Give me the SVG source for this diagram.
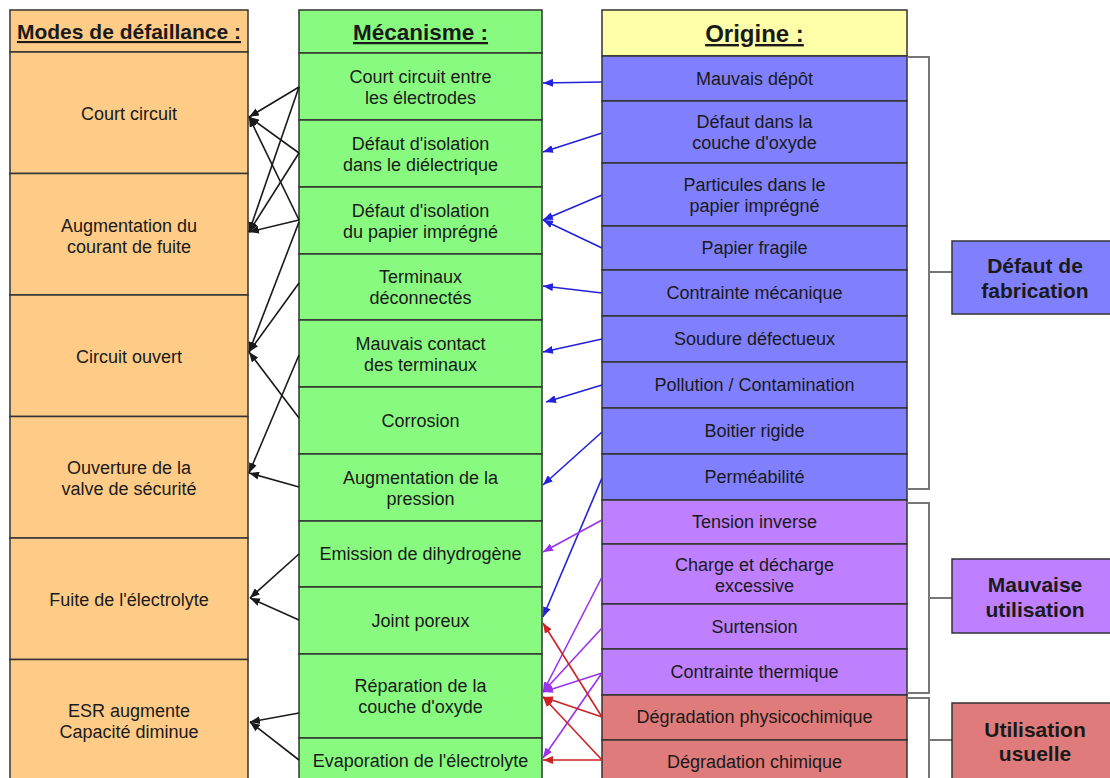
<svg xmlns="http://www.w3.org/2000/svg" width="1110" height="778" viewBox="0 0 1110 778">
<style>
  text{font-family:"Liberation Sans",Arial,sans-serif;fill:#1a1a1a;text-anchor:middle}
  .t{font-size:18px}
  .h{font-weight:bold;text-decoration:underline}
  .lb{font-size:21px;font-weight:bold}
  .cell{stroke:#333;stroke-width:1.5}
  .or{fill:#FFCC88}
  .gr{fill:#88FA80}
  .ye{fill:#FFFFAA}
  .bl{fill:#8080FF}
  .pu{fill:#BF80FF}
  .re{fill:#E07B7B}
  .k{stroke:#1a1a1a;stroke-width:1.6;fill:none}
  .b{stroke:#2222DD;stroke-width:1.6;fill:none}
  .p{stroke:#9933EE;stroke-width:1.6;fill:none}
  .r{stroke:#CC2222;stroke-width:1.6;fill:none}
  .br{stroke:#777;stroke-width:2;fill:none}
</style>
<defs>
  <marker id="ak" markerUnits="userSpaceOnUse" markerWidth="10" markerHeight="8" refX="10" refY="4" orient="auto"><path d="M0,0 L10,4 L0,8 z" fill="#1a1a1a"/></marker>
  <marker id="ab" markerUnits="userSpaceOnUse" markerWidth="10" markerHeight="8" refX="10" refY="4" orient="auto"><path d="M0,0 L10,4 L0,8 z" fill="#2222DD"/></marker>
  <marker id="ap" markerUnits="userSpaceOnUse" markerWidth="10" markerHeight="8" refX="10" refY="4" orient="auto"><path d="M0,0 L10,4 L0,8 z" fill="#9933EE"/></marker>
  <marker id="ar" markerUnits="userSpaceOnUse" markerWidth="10" markerHeight="8" refX="10" refY="4" orient="auto"><path d="M0,0 L10,4 L0,8 z" fill="#CC2222"/></marker>
</defs>
<rect width="1110" height="778" fill="#fff"/>

<!-- Left column: Modes de défaillance -->
<g id="modes">
  <rect class="cell or" x="10" y="10" width="238" height="42"/>
  <text class="h" x="129" y="39" font-size="21">Modes de défaillance :</text>
  <g id="m1"><rect class="cell or" x="10" y="52" width="238" height="121.5"/><text class="t" x="129" y="120">Court circuit</text></g>
  <g id="m2"><rect class="cell or" x="10" y="173.5" width="238" height="121.5"/><text class="t" x="129" y="232">Augmentation du</text><text class="t" x="129" y="253">courant de fuite</text></g>
  <g id="m3"><rect class="cell or" x="10" y="295" width="238" height="121.5"/><text class="t" x="129" y="363">Circuit ouvert</text></g>
  <g id="m4"><rect class="cell or" x="10" y="416.5" width="238" height="121.5"/><text class="t" x="129" y="474">Ouverture de la</text><text class="t" x="129" y="495">valve de sécurité</text></g>
  <g id="m5"><rect class="cell or" x="10" y="538" width="238" height="121.5"/><text class="t" x="129" y="606">Fuite de l'électrolyte</text></g>
  <g id="m6"><rect class="cell or" x="10" y="659.5" width="238" height="125"/><text class="t" x="129" y="717">ESR augmente</text><text class="t" x="129" y="738">Capacité diminue</text></g>
</g>

<!-- Middle column: Mécanisme -->
<g id="mecanisme">
  <rect class="cell gr" x="299" y="10" width="243" height="43"/>
  <text class="h" x="420.5" y="40" font-size="22.5">Mécanisme :</text>
  <g id="c1"><rect class="cell gr" x="299" y="53" width="243" height="67"/><text class="t" x="420.5" y="83">Court circuit entre</text><text class="t" x="420.5" y="104">les électrodes</text></g>
  <g id="c2"><rect class="cell gr" x="299" y="120" width="243" height="67"/><text class="t" x="420.5" y="150">Défaut d'isolation</text><text class="t" x="420.5" y="171">dans le diélectrique</text></g>
  <g id="c3"><rect class="cell gr" x="299" y="187" width="243" height="67"/><text class="t" x="420.5" y="217">Défaut d'isolation</text><text class="t" x="420.5" y="238">du papier imprégné</text></g>
  <g id="c4"><rect class="cell gr" x="299" y="254" width="243" height="66"/><text class="t" x="420.5" y="283">Terminaux</text><text class="t" x="420.5" y="304">déconnectés</text></g>
  <g id="c5"><rect class="cell gr" x="299" y="320" width="243" height="67"/><text class="t" x="420.5" y="350">Mauvais contact</text><text class="t" x="420.5" y="371">des terminaux</text></g>
  <g id="c6"><rect class="cell gr" x="299" y="387" width="243" height="67"/><text class="t" x="420.5" y="427">Corrosion</text></g>
  <g id="c7"><rect class="cell gr" x="299" y="454" width="243" height="67"/><text class="t" x="420.5" y="484">Augmentation de la</text><text class="t" x="420.5" y="505">pression</text></g>
  <g id="c8"><rect class="cell gr" x="299" y="521" width="243" height="66"/><text class="t" x="420.5" y="560">Emission de dihydrogène</text></g>
  <g id="c9"><rect class="cell gr" x="299" y="587" width="243" height="67"/><text class="t" x="420.5" y="627">Joint poreux</text></g>
  <g id="c10"><rect class="cell gr" x="299" y="654" width="243" height="84"/><text class="t" x="420.5" y="692">Réparation de la</text><text class="t" x="420.5" y="713">couche d'oxyde</text></g>
  <g id="c11"><rect class="cell gr" x="299" y="738" width="243" height="48"/><text class="t" x="420.5" y="767">Evaporation de l'électrolyte</text></g>
</g>

<!-- Right column: Origine -->
<g id="origine">
  <rect class="cell ye" x="602" y="10" width="305" height="46" stroke="#999"/>
  <text class="h" x="754.5" y="42" font-size="24">Origine :</text>
  <g id="o1"><rect class="cell bl" x="602" y="56" width="305" height="45"/><text class="t" x="754.5" y="85">Mauvais dépôt</text></g>
  <g id="o2"><rect class="cell bl" x="602" y="101" width="305" height="62"/><text class="t" x="754.5" y="128">Défaut dans la</text><text class="t" x="754.5" y="149">couche d'oxyde</text></g>
  <g id="o3"><rect class="cell bl" x="602" y="163" width="305" height="63"/><text class="t" x="754.5" y="191">Particules dans le</text><text class="t" x="754.5" y="212">papier imprégné</text></g>
  <g id="o4"><rect class="cell bl" x="602" y="226" width="305" height="44"/><text class="t" x="754.5" y="254">Papier fragile</text></g>
  <g id="o5"><rect class="cell bl" x="602" y="270" width="305" height="46"/><text class="t" x="754.5" y="299">Contrainte mécanique</text></g>
  <g id="o6"><rect class="cell bl" x="602" y="316" width="305" height="46"/><text class="t" x="754.5" y="345">Soudure défectueux</text></g>
  <g id="o7"><rect class="cell bl" x="602" y="362" width="305" height="46"/><text class="t" x="754.5" y="391">Pollution / Contamination</text></g>
  <g id="o8"><rect class="cell bl" x="602" y="408" width="305" height="46"/><text class="t" x="754.5" y="437">Boitier rigide</text></g>
  <g id="o9"><rect class="cell bl" x="602" y="454" width="305" height="46"/><text class="t" x="754.5" y="483">Perméabilité</text></g>
  <g id="o10"><rect class="cell pu" x="602" y="500" width="305" height="44"/><text class="t" x="754.5" y="528">Tension inverse</text></g>
  <g id="o11"><rect class="cell pu" x="602" y="544" width="305" height="60"/><text class="t" x="754.5" y="571">Charge et décharge</text><text class="t" x="754.5" y="592">excessive</text></g>
  <g id="o12"><rect class="cell pu" x="602" y="604" width="305" height="45"/><text class="t" x="754.5" y="633">Surtension</text></g>
  <g id="o13"><rect class="cell pu" x="602" y="649" width="305" height="46"/><text class="t" x="754.5" y="678">Contrainte thermique</text></g>
  <g id="o14"><rect class="cell re" x="602" y="695" width="305" height="45"/><text class="t" x="754.5" y="723">Dégradation physicochimique</text></g>
  <g id="o15"><rect class="cell re" x="602" y="740" width="305" height="46"/><text class="t" x="754.5" y="768">Dégradation chimique</text></g>
</g>

<!-- Category brackets and labels -->
<g id="cat-fabrication">
  <path class="br" d="M907,57 H929 V489 H907 M929,272 H952"/>
  <rect class="cell bl" x="952" y="241" width="170" height="73" stroke="#555"/>
  <text class="lb" x="1035" y="273">Défaut de</text>
  <text class="lb" x="1035" y="298">fabrication</text>
</g>
<g id="cat-mauvaise">
  <path class="br" d="M907,503 H929 V693 H907 M929,598 H952"/>
  <rect class="cell pu" x="952" y="559" width="170" height="74" stroke="#555"/>
  <text class="lb" x="1035" y="592">Mauvaise</text>
  <text class="lb" x="1035" y="617">utilisation</text>
</g>
<g id="cat-usuelle">
  <path class="br" d="M907,698 H929 V790 M929,740 H952"/>
  <rect class="cell re" x="952" y="703" width="170" height="85" stroke="#555"/>
  <text class="lb" x="1035" y="737">Utilisation</text>
  <text class="lb" x="1035" y="761">usuelle</text>
</g>

<!-- Connectors -->
<g id="connectors">
  <g marker-end="url(#ak)">
    <line class="k" x1="299" y1="87" x2="249" y2="117"/>
    <line class="k" x1="299" y1="153" x2="249" y2="117"/>
    <line class="k" x1="299" y1="220" x2="249" y2="117"/>
    <line class="k" x1="299" y1="87" x2="249" y2="232"/>
    <line class="k" x1="299" y1="153" x2="249" y2="232"/>
    <line class="k" x1="299" y1="220" x2="249" y2="232"/>
    <line class="k" x1="299" y1="222" x2="249" y2="352"/>
    <line class="k" x1="299" y1="283" x2="249" y2="352"/>
    <line class="k" x1="299" y1="418" x2="249" y2="352"/>
    <line class="k" x1="299" y1="355" x2="249" y2="473"/>
    <line class="k" x1="299" y1="487" x2="249" y2="473"/>
    <line class="k" x1="299" y1="554" x2="250" y2="598"/>
    <line class="k" x1="299" y1="620" x2="250" y2="598"/>
    <line class="k" x1="299" y1="713" x2="250" y2="722"/>
    <line class="k" x1="299" y1="760" x2="250" y2="722"/>
  </g>
  <g marker-end="url(#ab)">
    <line class="b" x1="602" y1="82" x2="543" y2="83"/>
    <line class="b" x1="602" y1="133" x2="543" y2="152"/>
    <line class="b" x1="602" y1="195" x2="543" y2="220"/>
    <line class="b" x1="602" y1="248" x2="543" y2="220"/>
    <line class="b" x1="602" y1="293" x2="543" y2="286"/>
    <line class="b" x1="602" y1="339" x2="543" y2="352"/>
    <line class="b" x1="602" y1="385" x2="546" y2="402"/>
    <line class="b" x1="602" y1="432" x2="543" y2="485"/>
    <line class="b" x1="602" y1="478" x2="543" y2="617"/>
  </g>
  <g marker-end="url(#ap)">
    <line class="p" x1="602" y1="520" x2="543" y2="552"/>
    <line class="p" x1="602" y1="577" x2="543" y2="692"/>
    <line class="p" x1="602" y1="628" x2="543" y2="692"/>
    <line class="p" x1="602" y1="673" x2="543" y2="692"/>
    <line class="p" x1="602" y1="673" x2="543" y2="758"/>
  </g>
  <g marker-end="url(#ar)">
    <line class="r" x1="602" y1="717" x2="543" y2="623"/>
    <line class="r" x1="602" y1="717" x2="543" y2="697"/>
    <line class="r" x1="602" y1="760" x2="543" y2="697"/>
    <line class="r" x1="602" y1="760" x2="543" y2="760"/>
  </g>
</g>
</svg>
